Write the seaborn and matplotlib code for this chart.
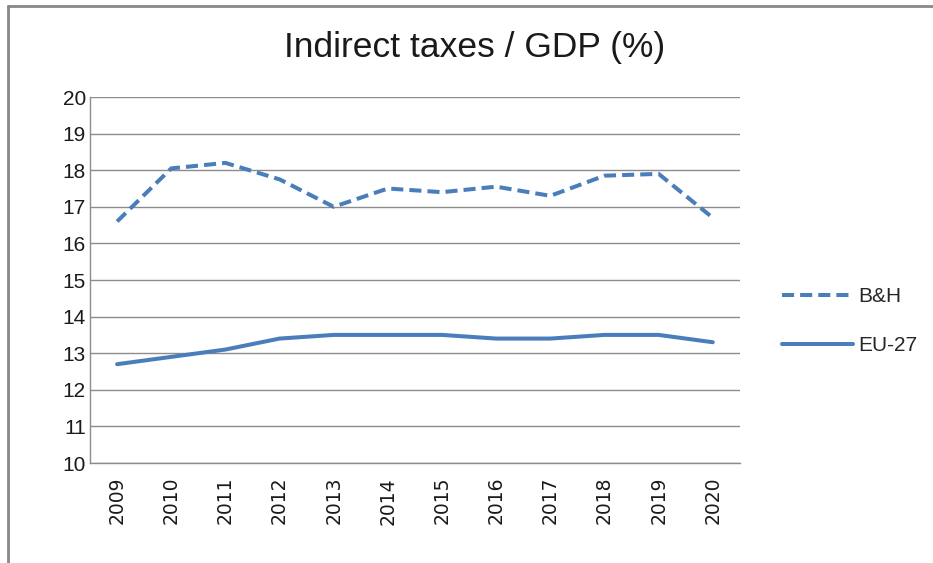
import matplotlib
matplotlib.use("Agg")
import matplotlib.pyplot as plt
import seaborn as sns
import pandas as pd
from matplotlib.lines import Line2D

years = ["2009", "2010", "2011", "2012", "2013", "2014", "2015", "2016", "2017", "2018", "2019", "2020"]
bh = [16.6, 18.05, 18.2, 17.75, 17.0, 17.5, 17.4, 17.55, 17.3, 17.85, 17.9, 16.7]
eu27 = [12.7, 12.9, 13.1, 13.4, 13.5, 13.5, 13.5, 13.4, 13.4, 13.5, 13.5, 13.3]
series_names = ["B&H", "EU-27"]
title = "Indirect taxes / GDP (%)"
yticks = list(range(10, 21))

df = pd.DataFrame({
    "year": years * 2,
    "value": bh + eu27,
    "series": [series_names[0]] * len(years) + [series_names[1]] * len(years),
})

sns.set_theme(style="white")
plt.rcParams["font.family"] = ["DejaVu Sans"]
narrow = ["Liberation Sans", "DejaVu Sans"]

fig = plt.figure(figsize=(9.33, 5.63), dpi=100)
ax = fig.add_axes([0.0965, 0.1776, 0.6965, 0.6501])

color = "#4a7ebb"
gray = "#8c8c8c"
sns.lineplot(data=df, x="year", y="value", hue="series", style="series",
             palette=[color, color], dashes={"B&H": (3.0, 1.5), "EU-27": ""},
             linewidth=2.9, ax=ax, legend=False, sort=False)

ax.set_xlim(-0.5, len(years) - 0.5)
ax.set_ylim(10, 20)
ax.set_yticks(yticks)
ax.set_yticklabels([str(t) for t in yticks], fontsize=15, family=narrow)
ax.set_xticks(range(len(years)))
ax.set_xticklabels(years, rotation=90, fontsize=13.5)
ax.set_xlabel("")
ax.set_ylabel("")
ax.grid(axis="y", color=gray, linewidth=1)
ax.set_axisbelow(True)
for s in ["top", "right"]:
    ax.spines[s].set_visible(False)
for s in ["left", "bottom"]:
    ax.spines[s].set_color(gray)
    ax.spines[s].set_linewidth(1)
ax.tick_params(axis="y", length=0, pad=3, colors="#1a1a1a")
ax.tick_params(axis="x", length=0, pad=10, colors="#1a1a1a")

handles = [Line2D([], [], color=color, lw=2.9, ls=(0, (3.0, 1.5))),
           Line2D([], [], color=color, lw=2.9, ls="-")]
fig.legend(handles, series_names, loc="center left", bbox_to_anchor=(0.818, 0.43),
           frameon=False, handlelength=3.4, handletextpad=0.25,
           labelspacing=1.45, prop={"family": narrow, "size": 15})

fig.text(0.509, 0.915, title, ha="center", va="center", fontsize=25.5,
         family=narrow, color="#1a1a1a")

# outer chart border
fig.add_artist(Line2D([0.009, 0.009], [0.0, 0.989], transform=fig.transFigure, color="#888888", lw=2))
fig.add_artist(Line2D([0.009, 1.0], [0.989, 0.989], transform=fig.transFigure, color="#888888", lw=2))

fig.savefig("out.png", dpi=100)
